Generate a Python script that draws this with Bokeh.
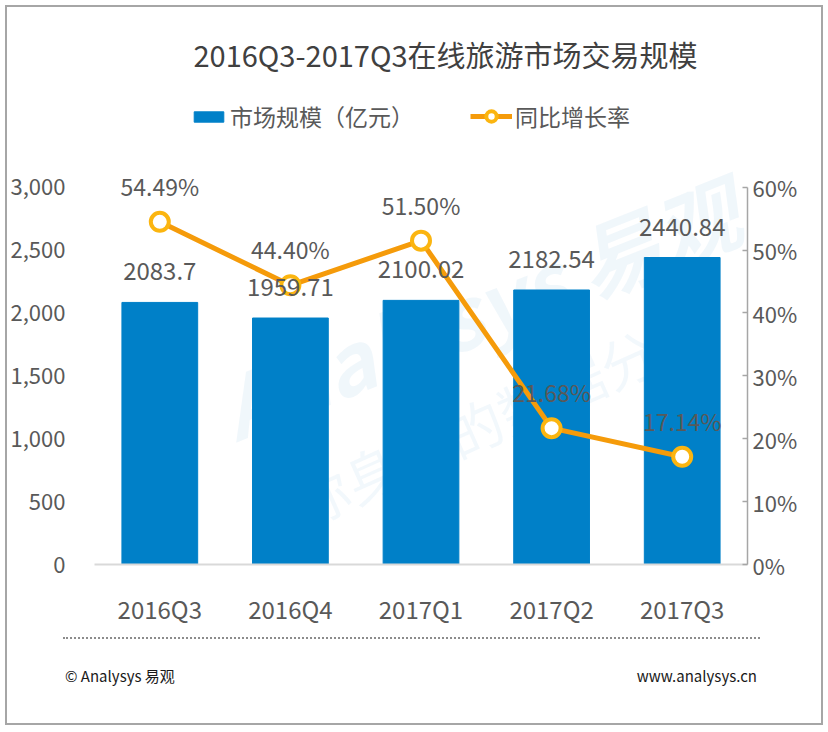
from bokeh.plotting import figure
from bokeh.layouts import column
from bokeh.models import (ColumnDataSource, FactorRange, Range1d, LinearAxis,
                          FixedTicker, NumeralTickFormatter, PrintfTickFormatter,
                          Legend, LegendItem, Label, Div)
from bokeh.core.properties import value
from bokeh.embed import file_html
from bokeh.resources import INLINE

# data
quarters = ["2016Q3", "2016Q4", "2017Q1", "2017Q2", "2017Q3"]
market_size = [2083.7, 1959.71, 2100.02, 2182.54, 2440.84]
market_text = ["2083.7", "1959.71", "2100.02", "2182.54", "2440.84"]
growth = [54.49, 44.40, 51.50, 21.68, 17.14]
growth_text = ["54.49%", "44.40%", "51.50%", "21.68%", "17.14%"]
left_ticks = [0, 500, 1000, 1500, 2000, 2500, 3000]
right_ticks = [0, 10, 20, 30, 40, 50, 60]

FONT = "Noto Sans CJK SC"
GRAY = "#595959"
BLUE = "#0080C8"
ORANGE = "#F59B0A"
YELLOW = "#FBB510"

W, H_MAIN, H_FOOT = 814, 621, 95
LEFT, RIGHT, BOTTOM = 87, 74, 63
frame_h = H_MAIN - BOTTOM
# 3000 sits 378px above the baseline, the frame runs up to the top
y_top = 3000 * frame_h / 378.0

source = ColumnDataSource(data=dict(q=quarters, size=market_size, size_txt=market_text,
                                    g=growth, g_txt=growth_text))

p = figure(x_range=FactorRange(factors=quarters, range_padding=0),
           y_range=Range1d(0, y_top), width=W, height=H_MAIN,
           output_backend="svg", toolbar_location=None,
           min_border_top=0, min_border_bottom=BOTTOM,
           min_border_left=LEFT, min_border_right=RIGHT)
p.extra_y_ranges = {"pct": Range1d(0, y_top / 50.0)}
p.outline_line_color = None
p.xgrid.grid_line_color = None
p.ygrid.grid_line_color = None

# faint watermark behind the data
p.add_layout(Label(x=384, y=258, x_units="screen", y_units="screen",
                   text="Analysys 易观", text_align="center", text_baseline="middle",
                   angle=0.38, text_font=FONT, text_font_size="84px",
                   text_font_style="bold italic", text_color="#0070C0", text_alpha=0.06,
                   level="underlay"))
p.add_layout(Label(x=405, y=150, x_units="screen", y_units="screen",
                   text="你身边的数据分析", text_align="center", text_baseline="middle",
                   angle=0.42, text_font=FONT, text_font_size="56px",
                   text_color="#0070C0", text_alpha=0.05, level="underlay"))

bars = p.vbar(x="q", top="size", width=0.58, source=source, color=BLUE)
line = p.line(x="q", y="g", source=source, y_range_name="pct",
              line_color=ORANGE, line_width=5)
dots = p.scatter(x="q", y="g", source=source, y_range_name="pct", size=18,
                 fill_color="white", line_color=YELLOW, line_width=4)

p.text(x="q", y="size", text="size_txt", source=source, y_offset=-31,
       text_align="center", text_baseline="middle", text_color=GRAY,
       text_font=value(FONT), text_font_size="24px")
p.text(x="q", y="g", text="g_txt", source=source, y_range_name="pct", y_offset=-36,
       text_align="center", text_baseline="middle", text_color=GRAY,
       text_font=value(FONT), text_font_size="23px")

# axes
ax = p.xaxis[0]
ax.axis_line_color = "#D9D9D9"
ax.axis_line_width = 2
ax.major_tick_line_color = None
ax.major_tick_out = 0
ax.minor_tick_line_color = None
ax.major_label_standoff = 26
ax.major_label_text_font = FONT
ax.major_label_text_font_size = "24px"
ax.major_label_text_color = GRAY

ay = p.yaxis[0]
ay.ticker = FixedTicker(ticks=left_ticks)
ay.formatter = NumeralTickFormatter(format="0,0")
ay.axis_line_color = None
ay.major_tick_line_color = None
ay.major_tick_out = 0
ay.minor_tick_line_color = None
ay.minor_tick_out = 0
ay.major_label_standoff = 29
ay.major_label_text_font = FONT
ay.major_label_text_font_size = "22px"
ay.major_label_text_color = GRAY

ry = LinearAxis(y_range_name="pct", ticker=FixedTicker(ticks=right_ticks),
                formatter=PrintfTickFormatter(format="%d%%"), bounds=(0, 60))
ry.axis_line_color = "#A6A6A6"
ry.axis_line_width = 1.5
ry.major_tick_line_color = "#A6A6A6"
ry.major_tick_line_width = 1.5
ry.major_tick_in = 5
ry.major_tick_out = 0
ry.minor_tick_line_color = None
ry.minor_tick_out = 0
ry.major_label_standoff = 5
ry.major_label_text_font = FONT
ry.major_label_text_font_size = "22px"
ry.major_label_text_color = GRAY
p.add_layout(ry, "right")


def make_legend(item, loc, glyph_w, glyph_h):
    lg = Legend(items=[item], orientation="horizontal", location=loc)
    lg.glyph_width = glyph_w
    lg.glyph_height = glyph_h
    lg.label_standoff = 3
    lg.padding = 0
    lg.margin = 0
    lg.border_line_color = None
    lg.background_fill_alpha = 0
    lg.label_text_font = FONT
    lg.label_text_font_size = "23px"
    lg.label_text_color = GRAY
    return lg


p.add_layout(make_legend(LegendItem(label="市场规模（亿元）", renderers=[bars]),
                         (96, 431), 37, 13), "center")
p.add_layout(make_legend(LegendItem(label="同比增长率", renderers=[line, dots]),
                         (376, 431), 42, 26), "center")

# title
p.add_layout(Label(x=351, y=511, x_units="screen", y_units="screen",
                   text="2016Q3-2017Q3在线旅游市场交易规模", text_align="center",
                   text_baseline="middle", text_font=FONT, text_font_size="29px",
                   text_color="#404040"))

# footer strip with the dotted rule and the source texts
foot_html = (
    f'<div style="position:relative;width:{W}px;height:{H_FOOT}px;'
    f'font-family:\'{FONT}\';font-size:15px;color:#1A1A1A;">'
    '<div style="position:absolute;left:56px;top:9px;width:697px;'
    'border-top:2px dotted #8C8C8C;"></div>'
    '<span style="position:absolute;left:58px;top:39px;line-height:18px;">© Analysys 易观</span>'
    '<span style="position:absolute;right:64px;top:39px;line-height:18px;">www.analysys.cn</span>'
    '</div>'
)
foot = Div(text=foot_html, width=W, height=H_FOOT, margin=0)

page = column(p, foot, spacing=0,
              styles={"border": "2px solid #A6A6A6", "margin": "5px 0 0 5px"})

open("out.html", "w").write(file_html(page, INLINE))
